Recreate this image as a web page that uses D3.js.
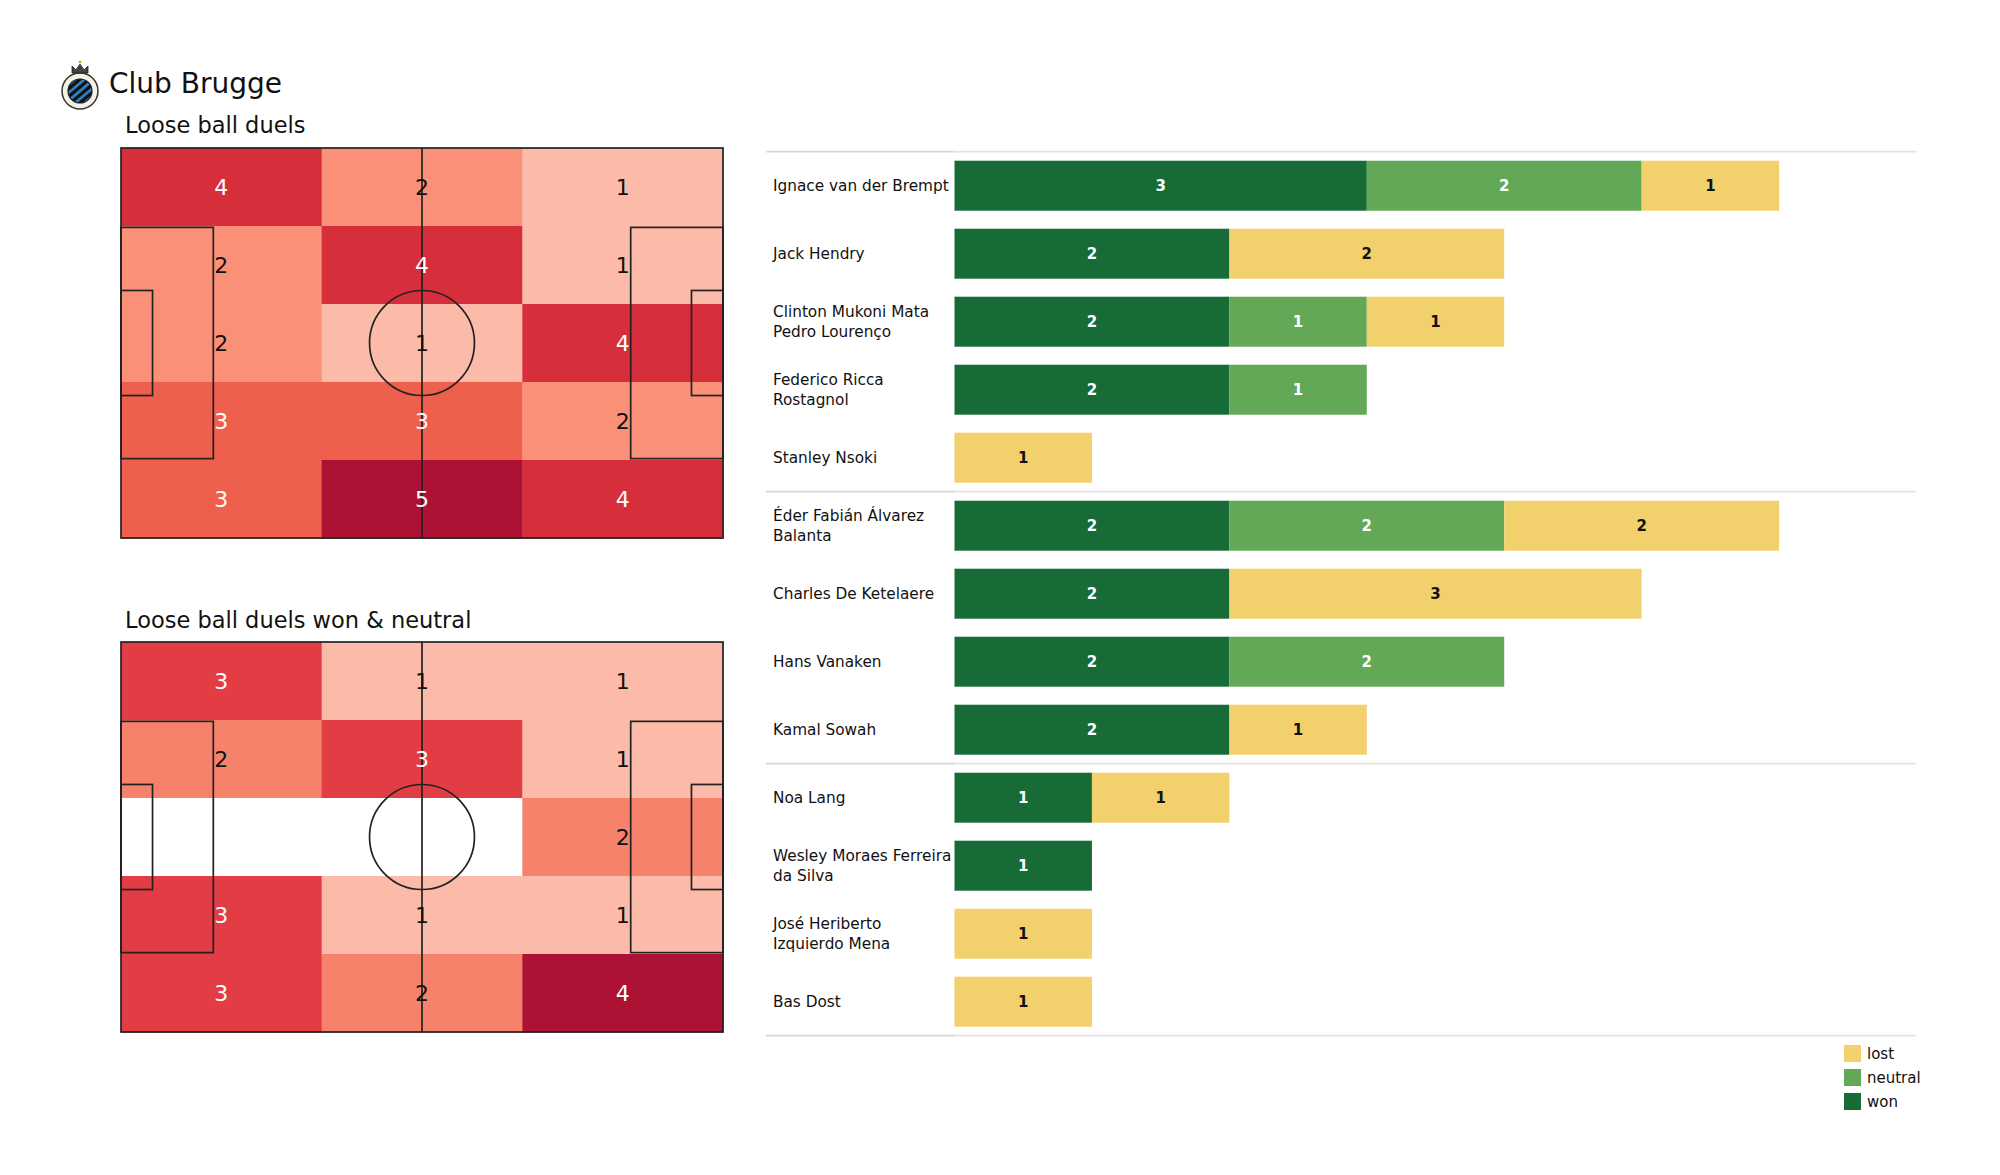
<!DOCTYPE html>
<html>
<head>
<meta charset="utf-8">
<script src="https://cdn.jsdelivr.net/npm/d3@7"></script>
<style>
  html, body { margin: 0; padding: 0; background: #fff; }
  svg { display: block; font-family: "DejaVu Sans", sans-serif; }
</style>
</head>
<body>
<svg id="chart" width="2000" height="1175"></svg>
<script>
// ---------------- DATA ----------------
const teamName = "Club Brugge";
const pitchTitles = ["Loose ball duels", "Loose ball duels won & neutral"];
// heatmap grids: 5 rows (top to bottom) x 3 columns (left to right)
const duelsGrid = [
  [4, 2, 1],
  [2, 4, 1],
  [2, 1, 4],
  [3, 3, 2],
  [3, 5, 4]
];
const wonNeutralGrid = [
  [3, 1, 1],
  [2, 3, 1],
  [0, 0, 2],
  [3, 1, 1],
  [3, 2, 4]
];
const players = [
  "Ignace van der Brempt",
  "Jack Hendry",
  "Clinton Mukoni Mata Pedro Lourenço",
  "Federico Ricca Rostagnol",
  "Stanley Nsoki",
  "Éder Fabián Álvarez Balanta",
  "Charles De Ketelaere",
  "Hans Vanaken",
  "Kamal Sowah",
  "Noa Lang",
  "Wesley Moraes Ferreira da Silva",
  "José Heriberto Izquierdo Mena",
  "Bas Dost"
];
const won     = [3, 2, 2, 2, 0, 2, 2, 2, 2, 1, 1, 0, 0];
const neutral = [2, 0, 1, 1, 0, 2, 0, 2, 0, 0, 0, 0, 0];
const lost    = [1, 2, 1, 0, 1, 2, 3, 0, 1, 1, 0, 1, 1];
const groupBreaks = [5, 9]; // separator lines before these row indexes
const seriesKeys = ["won", "neutral", "lost"];
const legendKeys = ["lost", "neutral", "won"];
const xMax = 7;

// ---------------- STYLE ----------------
const seriesColor = { won: "#176b37", neutral: "#62a856", lost: "#f2d06b" };
const heatStops = [0.2, 0.25, 0.4, 0.5, 0.6, 0.75, 0.8, 1.0];
const heatColors = ["#fcbaa8", "#fcbaa9", "#fa9078", "#f7826b", "#ef5f4d", "#e23c44", "#d62f3b", "#ad1234"];
const heat = d3.scaleLinear().domain(heatStops).range(heatColors).clamp(true);

const svg = d3.select("#chart");

// ---------------- HEADER ----------------
const logo = svg.append("g").attr("transform", "translate(80,91)");
logo.append("circle").attr("r", 18).attr("fill", "#f4f1e6").attr("stroke", "#333").attr("stroke-width", 1.5);
const clipId = "logoClip";
svg.append("defs").append("clipPath").attr("id", clipId)
  .append("circle").attr("cx", 0).attr("cy", 0).attr("r", 12);
const inner = logo.append("g").attr("clip-path", `url(#${clipId})`);
inner.append("circle").attr("r", 12).attr("fill", "#2f7fc4");
[-9, -3, 3, 9].forEach(o => {
  inner.append("rect").attr("x", -20).attr("y", o - 1.6).attr("width", 40).attr("height", 3.2)
    .attr("fill", "#111").attr("transform", "rotate(-40)");
});
logo.append("circle").attr("r", 12).attr("fill", "none").attr("stroke", "#222").attr("stroke-width", 1.2);
logo.append("path").attr("d", "M-8,-18 L-8,-25 L-4,-21 L0,-27 L4,-21 L8,-25 L8,-18 Z")
  .attr("fill", "#444").attr("stroke", "#222").attr("stroke-width", 0.8);
logo.append("circle").attr("cy", -29).attr("r", 1.3).attr("fill", "#c8a400");

svg.append("text").attr("x", 109).attr("y", 93).attr("font-size", 28).attr("fill", "#111").text(teamName);

// ---------------- PITCHES ----------------
const pitchX0 = 121, pitchX1 = 723;
const pitchTops = [148, 642];
const pitchH = 390;
const grids = [duelsGrid, wonNeutralGrid];
const titleY = [133, 628];

pitchTops.forEach((top, pi) => {
  const grid = grids[pi];
  const maxV = d3.max(grid.flat());
  const mx = d3.scaleLinear().domain([0, 105]).range([pitchX0, pitchX1]);
  const my = d3.scaleLinear().domain([0, 68]).range([top, top + pitchH]);
  const cx = d3.scaleLinear().domain([0, 3]).range([pitchX0, pitchX1]);
  const cy = d3.scaleLinear().domain([0, 5]).range([top, top + pitchH]);

  svg.append("text").attr("x", 125).attr("y", titleY[pi]).attr("font-size", 22.5).attr("fill", "#111").text(pitchTitles[pi]);

  const g = svg.append("g");
  const cells = [];
  grid.forEach((row, r) => row.forEach((v, c) => cells.push({ r, c, v })));

  g.selectAll("rect.cell").data(cells).join("rect")
    .attr("class", "cell")
    .attr("x", d => cx(d.c)).attr("y", d => cy(d.r))
    .attr("width", d => cx(d.c + 1) - cx(d.c) + 0.5)
    .attr("height", d => cy(d.r + 1) - cy(d.r) + 0.5)
    .attr("fill", d => d.v === 0 ? "#ffffff" : heat(d.v / maxV));

  // pitch markings
  const line = { stroke: "#222", "stroke-width": 1.7, fill: "none" };
  const addRect = (x0, y0, x1, y1) => {
    const rr = g.append("rect").attr("x", mx(x0)).attr("y", my(y0))
      .attr("width", mx(x1) - mx(x0)).attr("height", my(y1) - my(y0));
    Object.entries(line).forEach(([k, v]) => rr.attr(k, v));
  };
  addRect(0, 0, 105, 68);
  addRect(0, 13.84, 16.1, 54.16);
  addRect(0, 24.84, 5.5, 43.16);
  addRect(88.9, 13.84, 105, 54.16);
  addRect(99.5, 24.84, 105, 43.16);
  const hl = g.append("line").attr("x1", mx(52.5)).attr("x2", mx(52.5)).attr("y1", my(0)).attr("y2", my(68));
  Object.entries(line).forEach(([k, v]) => hl.attr(k, v));
  const cc = g.append("ellipse").attr("cx", mx(52.5)).attr("cy", my(34))
    .attr("rx", mx(52.5 + 9.15) - mx(52.5)).attr("ry", my(34 + 9.15) - my(34));
  Object.entries(line).forEach(([k, v]) => cc.attr(k, v));

  g.selectAll("text.val").data(cells.filter(d => d.v > 0)).join("text")
    .attr("class", "val")
    .attr("x", d => (cx(d.c) + cx(d.c + 1)) / 2)
    .attr("y", d => (cy(d.r) + cy(d.r + 1)) / 2)
    .attr("text-anchor", "middle").attr("dominant-baseline", "central")
    .attr("font-size", 22)
    .attr("fill", d => d.v / maxV > 0.5 ? "#ffffff" : "#111111")
    .text(d => d.v);
});

// ---------------- BAR CHART ----------------
const barX0 = 954.5, barX1 = 1916.5;
const bandTop = 151.7, bandStep = 68;
const labelX = 773, lineX0 = 766;

const table = players.map((p, i) => ({ player: p, won: won[i], neutral: neutral[i], lost: lost[i] }));
const x = d3.scaleLinear().domain([0, xMax]).range([barX0, barX1]);
const y = d3.scaleBand().domain(players).range([bandTop, bandTop + bandStep * players.length]).paddingInner(0.265).paddingOuter(0.1325);

// separators
const sepIdx = [0, ...groupBreaks, players.length];
sepIdx.forEach(i => {
  const yy = bandTop + i * bandStep;
  svg.append("line").attr("x1", lineX0).attr("x2", barX0).attr("y1", yy).attr("y2", yy)
    .attr("stroke", "#d6d6d6").attr("stroke-width", 1.8);
  svg.append("line").attr("x1", barX0).attr("x2", barX1).attr("y1", yy).attr("y2", yy)
    .attr("stroke", "#e2e2e2").attr("stroke-width", 1.8);
});

const stack = d3.stack().keys(seriesKeys)(table);
const barG = svg.append("g");
stack.forEach(layer => {
  const key = layer.key;
  const lg = barG.append("g");
  lg.selectAll("rect").data(layer.filter(d => d[1] > d[0])).join("rect")
    .attr("x", d => x(d[0]))
    .attr("y", d => y(d.data.player))
    .attr("width", d => x(d[1]) - x(d[0]))
    .attr("height", y.bandwidth())
    .attr("fill", seriesColor[key]);
  lg.selectAll("text").data(layer.filter(d => d[1] > d[0])).join("text")
    .attr("x", d => (x(d[0]) + x(d[1])) / 2)
    .attr("y", d => y(d.data.player) + y.bandwidth() / 2)
    .attr("text-anchor", "middle").attr("dominant-baseline", "central")
    .attr("font-size", 15).attr("font-weight", "bold")
    .attr("fill", key === "lost" ? "#111" : "#ffffff")
    .text(d => d[1] - d[0]);
});

// wrapped player labels (greedy wrap at 22 characters)
function wrap(s, width) {
  const words = s.split(" ");
  const lines = [];
  let cur = "";
  words.forEach(w => {
    const t = cur ? cur + " " + w : w;
    if (t.length > width && cur) { lines.push(cur); cur = w; } else { cur = t; }
  });
  if (cur) lines.push(cur);
  return lines;
}
players.forEach(p => {
  const lines = wrap(p, 22);
  const cyy = y(p) + y.bandwidth() / 2;
  const lh = 20;
  const t = svg.append("text").attr("font-size", 15.3).attr("fill", "#111");
  lines.forEach((l, k) => {
    t.append("tspan").attr("x", labelX)
      .attr("y", cyy + (k - (lines.length - 1) / 2) * lh)
      .attr("dominant-baseline", "central")
      .text(l);
  });
});

// legend
const lgd = svg.append("g");
legendKeys.forEach((k, i) => {
  const yy = 1045 + i * 24;
  lgd.append("rect").attr("x", 1844).attr("y", yy).attr("width", 17).attr("height", 17).attr("fill", seriesColor[k]);
  lgd.append("text").attr("x", 1867).attr("y", yy + 8.5).attr("dominant-baseline", "central")
    .attr("font-size", 15).attr("fill", "#111").text(k);
});
</script>
</body>
</html>
